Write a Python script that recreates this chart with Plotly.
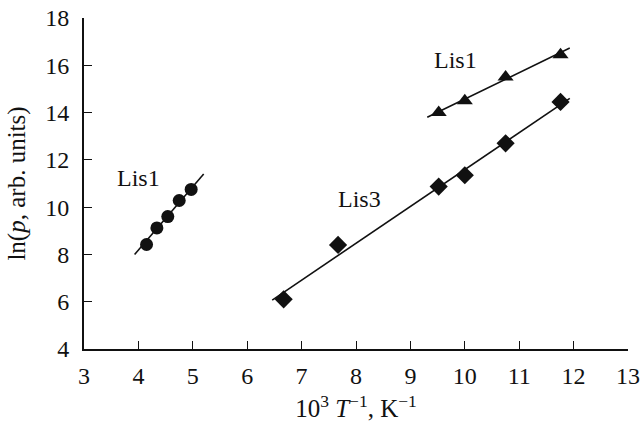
import plotly.graph_objects as go

# Data
lis1_low_x = [4.15, 4.34, 4.54, 4.75, 4.97]
lis1_low_y = [8.42, 9.12, 9.6, 10.28, 10.75]
lis1_low_fit_x = [3.93, 5.2]
lis1_low_fit_y = [8.0, 11.4]

lis1_high_x = [9.52, 10.0, 10.75, 11.76]
lis1_high_y = [14.0, 14.5, 15.5, 16.45]
lis1_high_fit_x = [9.31, 11.93]
lis1_high_fit_y = [13.8, 16.73]

lis3_x = [6.67, 7.67, 9.52, 10.0, 10.75, 11.76]
lis3_y = [6.1, 8.4, 10.87, 11.35, 12.7, 14.45]
lis3_fit_x = [6.46, 11.93]
lis3_fit_y = [6.07, 14.6]

x_ticks = [3, 4, 5, 6, 7, 8, 9, 10, 11, 12, 13]
y_ticks = [4, 6, 8, 10, 12, 14, 16, 18]

labels = [("Lis1", 4.0, 11.25), ("Lis3", 8.06, 10.35), ("Lis1", 9.83, 16.22)]

FONT = "Liberation Serif, Times New Roman, serif"
black = "#111111"

fig = go.Figure()
for fx, fy in [(lis1_low_fit_x, lis1_low_fit_y), (lis1_high_fit_x, lis1_high_fit_y), (lis3_fit_x, lis3_fit_y)]:
    fig.add_trace(go.Scatter(x=fx, y=fy, mode="lines", line=dict(color=black, width=1.6),
                             showlegend=False, hoverinfo="skip", cliponaxis=False))
fig.add_trace(go.Scatter(x=lis1_low_x, y=lis1_low_y, mode="markers",
                         marker=dict(symbol="circle", size=13, color=black), showlegend=False))
fig.add_trace(go.Scatter(x=lis1_high_x, y=lis1_high_y, mode="markers",
                         marker=dict(symbol="triangle-up", size=14, color=black), showlegend=False))
fig.add_trace(go.Scatter(x=lis3_x, y=lis3_y, mode="markers",
                         marker=dict(symbol="diamond", size=14, color=black), showlegend=False))

for text, x, y in labels:
    fig.add_annotation(x=x, y=y, text=text, showarrow=False,
                       font=dict(family=FONT, size=24, color=black))

axis_common = dict(showline=True, linecolor=black, linewidth=2, ticks="inside", ticklen=8,
                   tickwidth=1.3, tickcolor=black, showgrid=False, zeroline=False,
                   automargin=False, ticklabeloverflow="allow",
                   tickfont=dict(family=FONT, size=24, color=black))
fig.update_xaxes(range=[3, 13], tickvals=x_ticks, ticktext=[str(v) for v in x_ticks],
                 ticklabelstandoff=4,
                 title=dict(text="10<sup>3</sup> <i>T</i><sup>\u22121</sup>, K<sup>\u22121</sup>",
                            font=dict(family=FONT, size=25, color=black), standoff=12),
                 **axis_common)
fig.update_yaxes(range=[4, 18], tickvals=y_ticks, ticktext=[str(v) for v in y_ticks],
                 ticklabelstandoff=8,
                 title=dict(text="ln(<i>p</i>, arb. units)",
                            font=dict(family=FONT, size=25, color=black), standoff=12),
                 **axis_common)
fig.update_layout(width=642, height=424, plot_bgcolor="white", paper_bgcolor="white",
                  margin=dict(l=84, r=14, t=18, b=75), showlegend=False)
# remove the page's default 8px body margin so the figure fills the window exactly
fig.write_html("out.html", config={"displayModeBar": False},
               post_script="document.body.style.margin='0';document.body.style.overflow='hidden';")
